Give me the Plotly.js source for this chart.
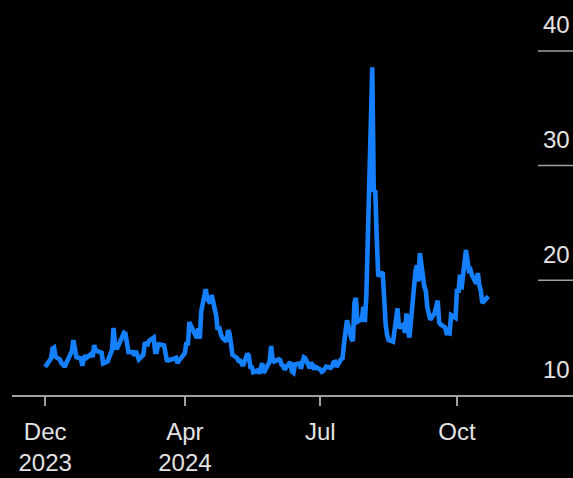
<!DOCTYPE html>
<html>
<head>
<meta charset="utf-8">
<script src="https://cdn.plot.ly/plotly-3.0.1.min.js"></script>
<style>
html,body{margin:0;padding:0;background:#000;}
#chart{width:573px;height:478px;}
</style>
</head>
<body>
<div id="chart"></div>
<script>
// Trading dates (Dec 29 2023 – Oct 22 2024) and index closes
const dates = [
"2023-12-29",
"2024-01-02","2024-01-03","2024-01-04","2024-01-05","2024-01-08","2024-01-09","2024-01-10","2024-01-11","2024-01-12",
"2024-01-16","2024-01-17","2024-01-18","2024-01-19","2024-01-22","2024-01-23","2024-01-24","2024-01-25","2024-01-26",
"2024-01-29","2024-01-30","2024-01-31","2024-02-01","2024-02-02","2024-02-05","2024-02-06","2024-02-07","2024-02-08",
"2024-02-09","2024-02-12","2024-02-13","2024-02-14","2024-02-15","2024-02-16","2024-02-20","2024-02-21","2024-02-22",
"2024-02-23","2024-02-26","2024-02-27","2024-02-28","2024-02-29","2024-03-01","2024-03-04","2024-03-05","2024-03-06",
"2024-03-07","2024-03-08","2024-03-11","2024-03-12","2024-03-13","2024-03-14","2024-03-15","2024-03-18","2024-03-19",
"2024-03-20","2024-03-21","2024-03-22","2024-03-25","2024-03-26","2024-03-27","2024-03-28","2024-04-01","2024-04-02",
"2024-04-03","2024-04-04","2024-04-05","2024-04-08","2024-04-09","2024-04-10","2024-04-11","2024-04-12","2024-04-15",
"2024-04-16","2024-04-17","2024-04-18","2024-04-19","2024-04-22","2024-04-23","2024-04-24","2024-04-25","2024-04-26",
"2024-04-29","2024-04-30","2024-05-01","2024-05-02","2024-05-03","2024-05-06","2024-05-07","2024-05-08","2024-05-09",
"2024-05-10","2024-05-13","2024-05-14","2024-05-15","2024-05-16","2024-05-17","2024-05-20","2024-05-21","2024-05-22",
"2024-05-23","2024-05-24","2024-05-28","2024-05-29","2024-05-30","2024-05-31","2024-06-03","2024-06-04","2024-06-05",
"2024-06-06","2024-06-07","2024-06-10","2024-06-11","2024-06-12","2024-06-13","2024-06-14","2024-06-17","2024-06-18",
"2024-06-20","2024-06-21","2024-06-24","2024-06-25","2024-06-26","2024-06-27","2024-06-28","2024-07-01","2024-07-02",
"2024-07-03","2024-07-05","2024-07-08","2024-07-09","2024-07-10","2024-07-11","2024-07-12","2024-07-15","2024-07-16",
"2024-07-17","2024-07-18","2024-07-19","2024-07-22","2024-07-23","2024-07-24","2024-07-25","2024-07-26","2024-07-29",
"2024-07-30","2024-07-31","2024-08-01","2024-08-02","2024-08-05","2024-08-06","2024-08-07","2024-08-08","2024-08-09",
"2024-08-12","2024-08-13","2024-08-14","2024-08-15","2024-08-16","2024-08-19","2024-08-20","2024-08-21","2024-08-22",
"2024-08-23","2024-08-26","2024-08-27","2024-08-28","2024-08-29","2024-08-30","2024-09-03","2024-09-04","2024-09-05",
"2024-09-06","2024-09-09","2024-09-10","2024-09-11","2024-09-12","2024-09-13","2024-09-16","2024-09-17","2024-09-18",
"2024-09-19","2024-09-20","2024-09-23","2024-09-24","2024-09-25","2024-09-26","2024-09-27","2024-09-30","2024-10-01",
"2024-10-02","2024-10-03","2024-10-04","2024-10-07","2024-10-08","2024-10-09","2024-10-10","2024-10-11","2024-10-14",
"2024-10-15","2024-10-16","2024-10-17","2024-10-18","2024-10-21","2024-10-22"
];
const values = [
12.45,
13.20,14.04,14.13,13.35,13.08,12.76,12.69,12.44,12.70,
13.84,14.79,14.13,13.30,13.19,12.55,13.14,13.45,13.26,
13.60,13.31,14.35,13.88,13.85,13.67,12.76,12.83,12.79,
12.93,13.93,15.85,14.38,14.01,14.24,15.42,15.34,14.54,
13.75,13.74,13.43,13.84,13.40,13.11,13.49,14.46,14.50,
14.44,14.74,15.01,13.75,13.75,14.40,14.41,14.33,13.82,
12.92,13.06,13.06,13.19,13.24,12.78,13.01,13.65,14.61,
14.33,16.35,16.03,15.19,14.98,15.80,14.91,17.31,19.23,
18.40,18.21,18.00,18.71,16.94,15.69,15.97,15.37,15.03,
14.67,15.65,15.39,14.68,13.49,13.23,13.00,13.00,12.69,
12.55,13.60,13.42,12.45,12.42,11.99,12.15,11.86,12.29,
12.77,11.93,12.92,14.28,13.08,12.92,13.11,13.06,12.63,
12.58,12.22,12.74,12.85,12.04,11.94,12.66,12.75,12.30,
13.28,13.20,12.33,12.84,12.55,12.24,12.44,12.22,12.03,
12.09,12.48,12.37,12.51,12.85,12.89,12.46,13.12,13.19,
14.48,15.93,16.52,14.91,14.72,18.04,18.46,16.39,16.60,
17.69,16.36,18.59,23.39,38.57,27.71,27.85,23.79,20.37,
20.71,18.12,16.19,15.23,14.80,14.65,15.88,16.27,17.55,
15.86,16.15,15.43,17.11,15.65,15.00,20.72,21.32,19.90,
22.38,19.45,19.08,17.69,17.07,16.56,17.14,17.61,18.23,
16.33,16.15,15.89,15.39,15.41,15.37,16.96,16.73,19.26,
18.90,20.49,19.21,22.64,21.42,20.86,20.93,20.46,19.70,
20.64,19.58,19.11,18.03,18.37,18.60
];
const xTickVals = ["2023-12-29","2024-04-01","2024-07-01","2024-10-01"];
const xTickText = ["Dec<br>2023","Apr<br>2024","Jul","Oct"];
const yTickVals = [10, 20, 30, 40];
const yTickText = ["10","20","30","40"];

const textColor = "#e3e3e3";
const axisColor = "#a0a0a0";
const fontFamily = "'Liberation Sans', Arial, Helvetica, sans-serif";

const shapes = yTickVals.filter(v => v !== 10).map(v => ({
  type: "line", xref: "paper", yref: "y",
  x0: 0.9376, x1: 1, y0: v, y1: v,
  line: {color: axisColor, width: 1.5}
}));
const annotations = yTickVals.map((v, i) => ({
  xref: "paper", yref: "y", x: 1, y: v,
  text: yTickText[i], showarrow: false,
  xanchor: "right", yanchor: "middle", xshift: -1, yshift: 26,
  font: {family: fontFamily, size: 24, color: textColor}
}));

const trace = {
  x: dates, y: values, type: "scatter", mode: "lines",
  line: {color: "#1480ff", width: 4.6, shape: "linear"},
  hoverinfo: "skip"
};

const layout = {
  width: 573, height: 478,
  paper_bgcolor: "#000", plot_bgcolor: "#000",
  margin: {l: 12, r: 0, t: 0, b: 83, pad: 0},
  showlegend: false,
  font: {family: fontFamily, size: 24, color: textColor},
  xaxis: {
    type: "date",
    range: ["2023-12-06 17:00", "2024-12-18"],
    tickvals: xTickVals, ticktext: xTickText,
    ticks: "outside", ticklen: 9, tickwidth: 1.5, tickcolor: axisColor,
    ticklabelstandoff: 5,
    showline: true, linecolor: axisColor, linewidth: 2,
    showgrid: false, zeroline: false,
    tickfont: {family: fontFamily, size: 24, color: textColor},
    fixedrange: true
  },
  yaxis: {
    range: [10, 44.44],
    showticklabels: false, showgrid: false, zeroline: false, showline: false,
    ticks: "", fixedrange: true
  },
  shapes: shapes,
  annotations: annotations
};

Plotly.newPlot("chart", [trace], layout, {displayModeBar: false, staticPlot: true});
</script>
</body>
</html>
